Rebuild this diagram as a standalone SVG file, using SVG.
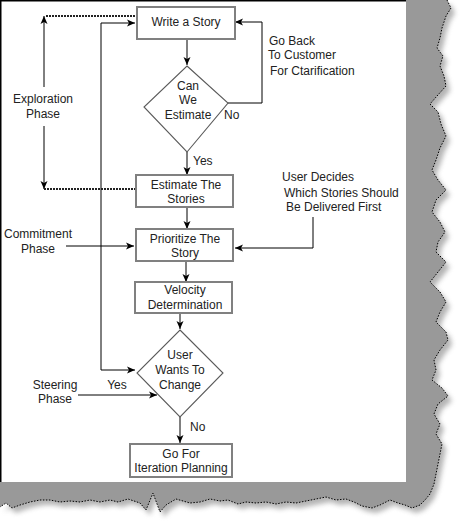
<svg xmlns="http://www.w3.org/2000/svg" width="460" height="522" viewBox="0 0 460 522">
<defs>
<style>
text{font-family:"Liberation Sans",Arial,sans-serif;font-size:12px;fill:#222;text-anchor:middle}
.st{text-anchor:start}
.box{fill:#fff;stroke:#808080;stroke-width:2}
.dia{fill:#fff;stroke:#5a5a5a;stroke-width:1.1}
.ln{fill:none;stroke:#000;stroke-width:1}
.dot{fill:none;stroke:#222;stroke-width:2;stroke-dasharray:2 1}
.edge{fill:none;stroke:#000;stroke-width:1;stroke-dasharray:1.5 1.5}
</style>
<marker id="ah" markerWidth="9" markerHeight="8" refX="8" refY="4" orient="auto" markerUnits="userSpaceOnUse"><path d="M0,0.5 L8,4 L0,7.5 L2,4 z" fill="#000"/></marker>
<filter id="soft" x="-10%" y="-10%" width="130%" height="130%"><feGaussianBlur stdDeviation="2.5"/></filter>
</defs>
<rect x="0" y="0" width="460" height="522" fill="#fff"/>
<g id="paper">
<path d="M406,0 L447,0 L451,8 L446,16 L442,28 L440,38 L437,48 L443,56 L440,66 L444,76 L446,86 L437,96 L430,104 L438,112 L441,124 L446,136 L440,148 L436,160 L432,170 L438,180 L446,190 L436,200 L432,212 L440,222 L445,232 L438,242 L436,252 L446,262 L438,272 L430,282 L440,292 L446,302 L440,312 L436,322 L446,332 L448,340 L440,350 L434,360 L436,370 L432,380 L442,388 L448,396 L438,404 L434,414 L440,424 L436,434 L442,444 L440,454 L438,464 L436,474 L434,484 L430,494 L425,500 L420,505 L412,508 L405,505 L398,503 L390,500 L380,505 L372,508 L362,506 L354,502 L346,499 L336,500 L326,497 L316,499 L306,501 L296,503 L286,502 L276,504 L266,502 L256,503 L246,502 L238,504 L228,500 L220,501 L210,499 L200,502 L190,503 L176,499 L166,505 L160,512 L153,493 L146,510 L140,503 L128,499 L118,502 L110,500 L100,502 L90,500 L80,502 L70,501 L60,502 L50,500 L40,500 L30,502 L20,505 L12,508 L6,503 L0,507 Z" fill="#777" opacity="0.55" transform="translate(4,5)" filter="url(#soft)"/>
<path d="M406,0 L447,0 L451,8 L446,16 L442,28 L440,38 L437,48 L443,56 L440,66 L444,76 L446,86 L437,96 L430,104 L438,112 L441,124 L446,136 L440,148 L436,160 L432,170 L438,180 L446,190 L436,200 L432,212 L440,222 L445,232 L438,242 L436,252 L446,262 L438,272 L430,282 L440,292 L446,302 L440,312 L436,322 L446,332 L448,340 L440,350 L434,360 L436,370 L432,380 L442,388 L448,396 L438,404 L434,414 L440,424 L436,434 L442,444 L440,454 L438,464 L436,474 L434,484 L430,494 L425,500 L420,505 L412,508 L405,505 L398,503 L390,500 L380,505 L372,508 L362,506 L354,502 L346,499 L336,500 L326,497 L316,499 L306,501 L296,503 L286,502 L276,504 L266,502 L256,503 L246,502 L238,504 L228,500 L220,501 L210,499 L200,502 L190,503 L176,499 L166,505 L160,512 L153,493 L146,510 L140,503 L128,499 L118,502 L110,500 L100,502 L90,500 L80,502 L70,501 L60,502 L50,500 L40,500 L30,502 L20,505 L12,508 L6,503 L0,507 L0,482 L406,482 Z" fill="#999"/>
<path class="edge" d="M447,0 L451,8 L446,16 L442,28 L440,38 L437,48 L443,56 L440,66 L444,76 L446,86 L437,96 L430,104 L438,112 L441,124 L446,136 L440,148 L436,160 L432,170 L438,180 L446,190 L436,200 L432,212 L440,222 L445,232 L438,242 L436,252 L446,262 L438,272 L430,282 L440,292 L446,302 L440,312 L436,322 L446,332 L448,340 L440,350 L434,360 L436,370 L432,380 L442,388 L448,396 L438,404 L434,414 L440,424 L436,434 L442,444 L440,454 L438,464 L436,474 L434,484 L430,494 L425,500 L420,505 L412,508 L405,505 L398,503 L390,500 L380,505 L372,508 L362,506 L354,502 L346,499 L336,500 L326,497 L316,499 L306,501 L296,503 L286,502 L276,504 L266,502 L256,503 L246,502 L238,504 L228,500 L220,501 L210,499 L200,502 L190,503 L176,499 L166,505 L160,512 L153,493 L146,510 L140,503 L128,499 L118,502 L110,500 L100,502 L90,500 L80,502 L70,501 L60,502 L50,500 L40,500 L30,502 L20,505 L12,508 L6,503 L0,507"/>
<rect x="0" y="0" width="406" height="482" fill="#fff"/>
<path d="M0.75,482 V0.75 H406" fill="none" stroke="#000" stroke-width="1.5"/>
</g>
<g id="connectors">
<path class="ln" d="M187,39 V65" marker-end="url(#ah)"/>
<path class="ln" d="M228,103 H262 V22 H235" marker-end="url(#ah)"/>
<path class="ln" d="M187,152 V175" marker-end="url(#ah)"/>
<path class="ln" d="M187,207 V229" marker-end="url(#ah)"/>
<path class="ln" d="M186,261 V282" marker-end="url(#ah)"/>
<path class="ln" d="M180,313 V329" marker-end="url(#ah)"/>
<path class="ln" d="M180,417 V443" marker-end="url(#ah)"/>
<path class="ln" d="M101,370 V23 H135" marker-end="url(#ah)"/>
<path class="ln" d="M101,370 H135" marker-end="url(#ah)"/>
<path class="ln" d="M78,395 H157" marker-end="url(#ah)"/>
<path class="ln" d="M66,246 H134" marker-end="url(#ah)"/>
<path class="ln" d="M313,217 V248 H235" marker-end="url(#ah)"/>
<path class="ln" d="M44,87 V16" marker-end="url(#ah)"/>
<path class="ln" d="M44,126 V189" marker-end="url(#ah)"/>
<path class="dot" d="M46,16 H137"/>
<path class="dot" d="M44,189 H136"/>
</g>
<g id="write-story">
<rect class="box" x="137" y="7" width="98" height="32"/>
<text x="186" y="26">Write a Story</text>
</g>
<g id="can-we-estimate">
<polygon class="dia" points="187,66 228,103 187,152 144,107"/>
<text x="188" y="90">Can</text>
<text x="188" y="104">We</text>
<text x="188" y="119">Estimate</text>
</g>
<g id="estimate-stories">
<rect class="box" x="136" y="175" width="97" height="32"/>
<text x="186" y="189">Estimate The</text>
<text x="186" y="203">Stories</text>
</g>
<g id="prioritize">
<rect class="box" x="136" y="229" width="97" height="32"/>
<text x="185" y="243">Prioritize The</text>
<text x="185" y="257">Story</text>
</g>
<g id="velocity">
<rect class="box" x="135" y="282" width="97" height="31"/>
<text x="185" y="294">Velocity</text>
<text x="185" y="309">Determination</text>
</g>
<g id="user-wants-change">
<polygon class="dia" points="180,330 223,373 180,417 137,373"/>
<text x="180" y="359">User</text>
<text x="180" y="374">Wants To</text>
<text x="180" y="389">Change</text>
</g>
<g id="iteration-planning">
<rect class="box" x="130" y="444" width="102" height="33"/>
<text x="181" y="458">Go For</text>
<text x="181" y="472">Iteration Planning</text>
</g>
<g id="labels">
<text class="st" x="224" y="119">No</text>
<text class="st" x="193" y="165">Yes</text>
<text class="st" x="190" y="431">No</text>
<text x="117" y="389">Yes</text>
<text class="st" x="269" y="45">Go Back</text>
<text class="st" x="268" y="59">To Customer</text>
<text class="st" x="270" y="75">For Ctarification</text>
<text x="43" y="103">Exploration</text>
<text x="43" y="118">Phase</text>
<text x="38" y="238">Commitment</text>
<text x="38" y="253">Phase</text>
<text x="55" y="389">Steering</text>
<text x="55" y="403">Phase</text>
<text class="st" x="282" y="181">User Decides</text>
<text class="st" x="284" y="197">Which Stories Should</text>
<text class="st" x="286" y="211">Be Delivered First</text>
</g>
</svg>
